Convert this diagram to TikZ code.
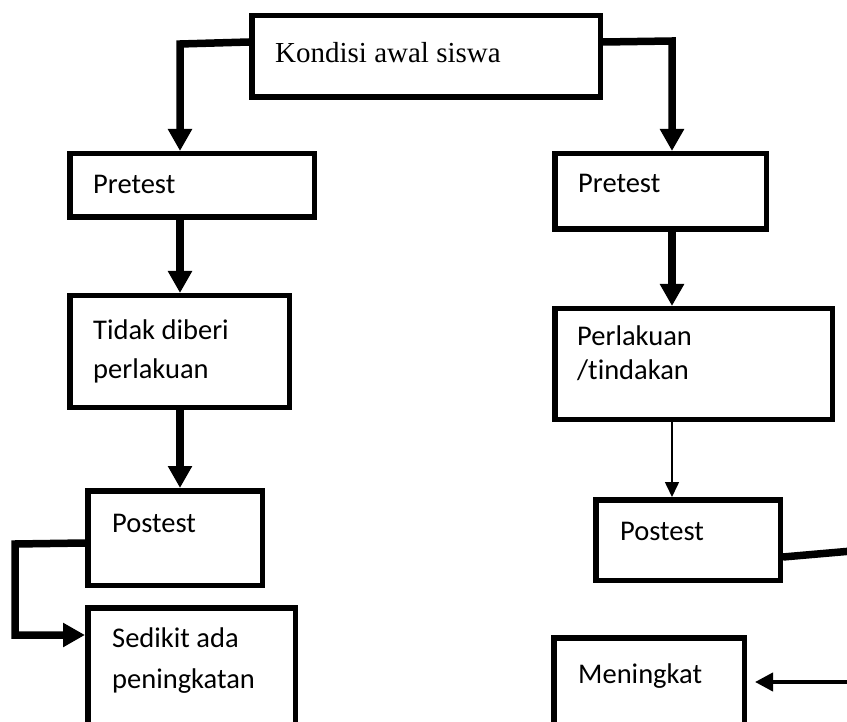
\documentclass[tikz,border=0pt]{standalone}
\usepackage{fontspec}
\setmainfont{Carlito}[RawFeature=-liga]
\newfontfamily\timesf{Liberation Serif}
\usetikzlibrary{arrows.meta}
\begin{document}
\begin{tikzpicture}[x=1pt,y=-1pt,
  box/.style={draw=black,line width=5.5pt,fill=white,rectangle,inner sep=0pt},
  txt/.style={anchor=base west,inner sep=0pt,font=\fontsize{28.5}{34}\selectfont},
  conn/.style={line width=7.5pt,-{Triangle[width=23pt,length=22pt]}},
  plain/.style={line width=7.5pt},
  thinconn/.style={line width=1.6pt,-{Triangle[width=14pt,length=15pt]}},
  medconn/.style={line width=4pt,-{Triangle[width=18pt,length=18pt]}}]
\useasboundingbox (0,0) rectangle (847,722);
\clip (0,0) rectangle (847,722);
\fill[white] (0,0) rectangle (847,722);
% boxes
\node[box,minimum width=348.5pt,minimum height=81.5pt] (top) at (426,56.5) {};
\node[box,minimum width=244.5pt,minimum height=63.5pt] (lpre) at (192,185.5) {};
\node[box,minimum width=219.5pt,minimum height=111.5pt] (tidak) at (179.5,351.5) {};
\node[box,minimum width=174.5pt,minimum height=94.5pt] (lpost) at (175,538) {};
\node[box,minimum width=207.5pt,minimum height=149.5pt] (sedikit) at (191.5,682.5) {};
\node[box,minimum width=211.5pt,minimum height=75.5pt] (rpre) at (660.5,191.5) {};
\node[box,minimum width=277.5pt,minimum height=110.5pt] (perl) at (693.5,364) {};
\node[box,minimum width=184.5pt,minimum height=80.5pt] (rpost) at (688,540) {};
\node[box,minimum width=190.5pt,minimum height=119.5pt] (mening) at (649,697.5) {};
% texts
\node[anchor=base west,inner sep=0pt,font=\timesf\fontsize{29}{34}\selectfont] (tkondisi) at (275,63) {Kondisi awal siswa};
\node[txt] (tlpre) at (93,194) {Pretest};
\node[txt] (trpre) at (578,193) {Pretest};
\node[txt] (ttidak1) at (93,340) {Tidak diberi};
\node[txt] (ttidak2) at (93,378) {perlakuan};
\node[txt] (tperl1) at (577,346) {Perlakuan};
\node[txt] (tperl2) at (577,380) {/tindakan};
\node[txt] (tlpost) at (112,532) {Postest};
\node[txt] (trpost) at (620,540) {Postest};
\node[txt] (tsed1) at (112,647) {Sedikit ada};
\node[txt] (tsed2) at (112,688) {peningkatan};
\node[txt] (tmen) at (578,683) {Meningkat};
% bend coordinates
\coordinate (tlbend) at (180,44);
\coordinate (trbend) at (672,41);
\coordinate (lb1) at (15,544);
\coordinate (lb2) at (15,635);
\coordinate (rfree1) at (852,551);
\coordinate (rfree2) at (852,682);
\coordinate (mtip) at (755,682);
% connectors
\draw[conn,line join=miter] ([yshift=14.5pt]top.west) -- (tlbend) -- (tlbend |- lpre.north);
\draw[conn,line join=miter] ([yshift=14.5pt]top.east) -- (trbend) -- (trbend |- rpre.north);
\draw[conn] (lpre.south -| tlbend) -- (tidak.north -| tlbend);
\draw[conn] (tidak.south -| tlbend) -- (lpost.north -| tlbend);
\draw[conn] (rpre.south -| trbend) -- (perl.north -| trbend);
\draw[thinconn] (perl.south -| trbend) -- (rpost.north -| trbend);
\draw[conn,line join=miter] ([yshift=-5pt]lpost.west) -- (lb1) -- (lb2) -- (lb2 -| sedikit.west);
\draw[plain] ([yshift=-17pt]rpost.east) -- (rfree1);
\draw[medconn] (rfree2) -- (mtip);
\end{tikzpicture}
\end{document}
